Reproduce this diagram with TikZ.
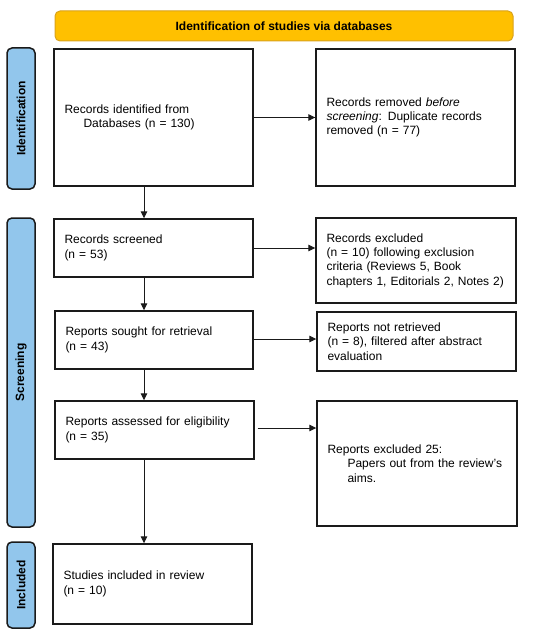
\documentclass[tikz,border=0pt]{standalone}
\usepackage{fontspec}
\setmainfont{Liberation Sans}
\usetikzlibrary{arrows.meta}
\definecolor{banner}{HTML}{FFC000}
\definecolor{bannerline}{HTML}{D9A21B}
\definecolor{sidefill}{HTML}{92C6EC}
\definecolor{boxline}{HTML}{1A1A1A}
\tikzset{
  every node/.style={font=\fontsize{12}{14.3}\selectfont},
  flowbox/.style={draw=boxline, line width=1.4pt, fill=white, align=left,
    inner xsep=10.5pt, inner ysep=0pt, anchor=center},
  sidebox/.style={draw=boxline, line width=1.5pt, fill=sidefill, rounded corners=5pt,
    inner sep=0pt, minimum width=28pt, anchor=center},
  sidelabel/.style={rotate=90, font=\fontsize{12}{14}\selectfont\bfseries},
  flowarrow/.style={draw=boxline, line width=0.9pt, -{Triangle[length=7pt,width=6.5pt]}},
}
\begin{document}
\begin{tikzpicture}[x=1pt, y=-1pt]
\useasboundingbox (0,0) rectangle (550,631);
% banner
\node[draw=bannerline, line width=1pt, fill=banner, rounded corners=5pt,
  minimum width=458pt, minimum height=30pt, inner sep=0pt,
  font=\fontsize{12}{14}\selectfont\bfseries] (banner) at (284,26) {Identification of studies via databases};
% side boxes
\node[sidebox, minimum height=141pt] (sid) at (21,118.5) {};
\node[sidelabel] (sidlab) at (sid.center) {Identification};
\node[sidebox, minimum height=309pt] (sscr) at (21,372.5) {};
\node[sidelabel] (sscrlab) at (sscr.center) {Screening};
\node[sidebox, minimum height=86pt] (sinc) at (21,585) {};
\node[sidelabel] (sinclab) at (sinc.center) {Included};
% boxes
\node[flowbox, text width=178pt, minimum height=137pt] (A) at (153.5,117.5)
  {Records identified from\\\hspace*{19pt}Databases (n = 130)};
\node[flowbox, text width=178pt, minimum height=137pt] (B) at (415.5,117.5)
  {Records removed \emph{before}\\\emph{screening}: Duplicate records\\removed (n = 77)};
\node[flowbox, text width=178pt, minimum height=58pt] (C) at (153.5,248)
  {Records screened\\(n = 53)};
\node[flowbox, text width=179pt, minimum height=85pt] (D) at (416,260.5)
  {Records excluded\\(n = 10) following exclusion\\criteria (Reviews 5, Book\\chapters 1, Editorials 2, Notes 2)};
\node[flowbox, text width=177pt, minimum height=58pt] (E) at (154,340)
  {Reports sought for retrieval\\(n = 43)};
\node[flowbox, text width=178pt, minimum height=59pt] (F) at (416.5,341.5)
  {Reports not retrieved\\(n = 8), filtered after abstract\\evaluation};
\node[flowbox, text width=178pt, minimum height=58pt] (G) at (154.5,430)
  {Reports assessed for eligibility\\(n = 35)};
\node[flowbox, text width=179pt, minimum height=125pt] (H) at (417,463.5)
  {Reports excluded 25:\\\hspace*{20pt}Papers out from the review’s\\\hspace*{20pt}aims.};
\node[flowbox, text width=178pt, minimum height=80pt] (I) at (152.5,584)
  {Studies included in review\\(n = 10)};
% connectors
\coordinate (vx) at (144,0);
\draw[flowarrow] (A.south -| vx) -- (C.north -| vx);
\draw[flowarrow] (C.south -| vx) -- (E.north -| vx);
\draw[flowarrow] (E.south -| vx) -- (G.north -| vx);
\draw[flowarrow] (G.south -| vx) -- (I.north -| vx);
\draw[flowarrow] (A.east) -- (A.east -| B.west);
\draw[flowarrow] (C.east) -- (C.east -| D.west);
\draw[flowarrow] ([yshift=1pt]E.east) -- ([yshift=1pt]E.east -| F.west);
\draw[flowarrow] ([xshift=3pt,yshift=2pt]G.east) -- ([yshift=2pt]G.east -| H.west);
\end{tikzpicture}
\end{document}
